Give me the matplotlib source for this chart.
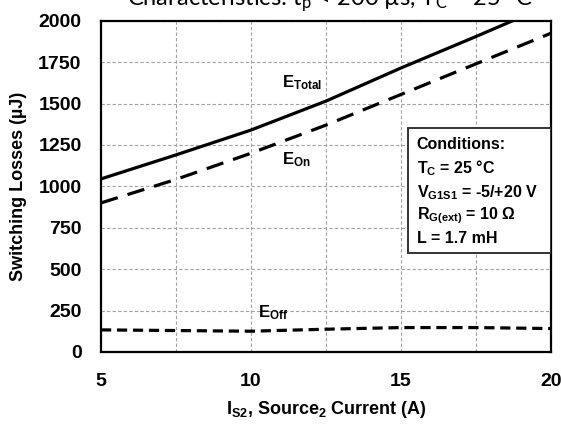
import matplotlib
matplotlib.use("Agg")
import matplotlib.pyplot as plt
from matplotlib.ticker import MultipleLocator
from matplotlib.patches import Rectangle

plt.rcParams['mathtext.fontset'] = 'custom'
plt.rcParams['mathtext.rm'] = 'Liberation Sans'
plt.rcParams['mathtext.bf'] = 'Liberation Sans:bold'
plt.rcParams['mathtext.sf'] = 'Lato'
plt.rcParams['font.family'] = ['Liberation Sans', 'DejaVu Sans']

# Data
current = [5, 7.5, 10, 12.5, 15, 17.5, 20]
e_total = [1045, 1190, 1340, 1515, 1715, 1905, 2100]
e_on = [900, 1042, 1200, 1370, 1555, 1740, 1925]
e_off = [133, 129, 125, 137, 147, 147, 141]

x_ticks = [5, 10, 15, 20]
y_ticks = [0, 250, 500, 750, 1000, 1250, 1500, 1750, 2000]

fig = plt.figure(figsize=(5.61, 4.25), dpi=100)
ax = fig.add_axes([0.180, 0.172, 0.802, 0.779])

ax.plot(current, e_total, color='black', lw=2.3, solid_capstyle='butt', zorder=3)
ax.plot(current, e_on, color='black', lw=2.3, dashes=(5.5, 3.2), zorder=3)
ax.plot(current, e_off, color='black', lw=2.3, dashes=(3.2, 1.8), zorder=3)

ax.set_xlim(5, 20)
ax.set_ylim(0, 2000)
ax.set_xticks(x_ticks)
ax.set_yticks(y_ticks)
ax.xaxis.set_minor_locator(MultipleLocator(2.5))
ax.grid(True, which='both', axis='x', color='#a0a0a0', ls=(0, (3, 2)), lw=0.8)
ax.grid(True, which='major', axis='y', color='#a0a0a0', ls=(0, (3, 2)), lw=0.8)
ax.set_axisbelow(True)
ax.tick_params(which='both', length=0)
ax.tick_params(axis='x', pad=15)
ax.tick_params(axis='y', pad=14)
for lab in ax.get_xticklabels() + ax.get_yticklabels():
    lab.set_fontweight('bold')
    lab.set_fontsize(14)
for s in ax.spines.values():
    s.set_linewidth(1.6)
    s.set_color('black')

ax.set_ylabel('Switching Losses (µJ)', fontsize=13, fontweight='bold', labelpad=8)
ax.set_xlabel(r'I$_\mathbf{S2}$, Source$_\mathbf{2}$ Current (A)', fontsize=13,
              fontweight='bold', labelpad=7)

ax.text(11.03, 1625, r'$\mathbf{E_{Total}}$', fontsize=12, va='center', ha='left')
ax.text(11.03, 1160, r'$\mathbf{E_{On}}$', fontsize=12, va='center', ha='left')
ax.text(10.23, 236, r'$\mathbf{E_{Off}}$', fontsize=12, va='center', ha='left')

# Conditions box
box = Rectangle((15.23, 598), 20 - 15.23, 1353 - 598, facecolor='white',
                edgecolor='#333333', lw=1.4, zorder=4)
ax.add_patch(box)
cond = ['Conditions:',
        r'T$_\mathbf{C}$ = 25 °C',
        r'V$_\mathbf{G1S1}$ = -5/+20 V',
        r'R$_\mathbf{G(ext)}$ = 10 Ω',
        'L = 1.7 mH']
cond_y = [1253, 1110, 965, 825, 686]
for t, yy in zip(cond, cond_y):
    ax.text(15.53, yy, t, fontsize=11.5, fontweight='bold', va='center', ha='left', zorder=5)

fig.text(0.588, 0.988, r'Characteristics: t$\mathsf{_p}$ < 200 µs, T$\mathsf{_C}$ = 25 °C',
         family='Lato', fontsize=17, ha='center', va='baseline')

fig.savefig('out.png', dpi=100)
